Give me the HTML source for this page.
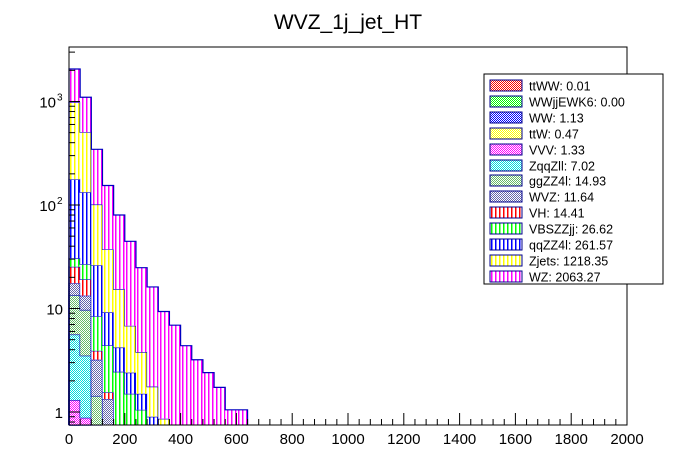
<!DOCTYPE html>
<html><head><meta charset="utf-8"><style>
body{margin:0;background:#fff;}
svg{display:block;font-family:"Liberation Sans",Arial,sans-serif;}
</style></head><body>
<svg id="c" width="696" height="472" viewBox="0 0 696 472" xmlns="http://www.w3.org/2000/svg">
<defs>
<pattern id="xr" width="2" height="2" patternUnits="userSpaceOnUse"><rect width="2" height="2" fill="#fff"/><rect width="1" height="1" fill="#f00"/><rect x="1" y="1" width="1" height="1" fill="#f00"/></pattern>
<pattern id="xg" width="2" height="2" patternUnits="userSpaceOnUse"><rect width="2" height="2" fill="#fff"/><rect width="1" height="1" fill="#0f0"/><rect x="1" y="1" width="1" height="1" fill="#0f0"/></pattern>
<pattern id="xb" width="2" height="2" patternUnits="userSpaceOnUse"><rect width="2" height="2" fill="#fff"/><rect width="1" height="1" fill="#00f"/><rect x="1" y="1" width="1" height="1" fill="#00f"/></pattern>
<pattern id="xy" width="2" height="2" patternUnits="userSpaceOnUse"><rect width="2" height="2" fill="#fff"/><rect width="1" height="1" fill="#ff0"/><rect x="1" y="1" width="1" height="1" fill="#ff0"/></pattern>
<pattern id="xm" width="2" height="2" patternUnits="userSpaceOnUse"><rect width="2" height="2" fill="#fff"/><rect width="1" height="1" fill="#f0f"/><rect x="1" y="1" width="1" height="1" fill="#f0f"/></pattern>
<pattern id="xc" width="2" height="2" patternUnits="userSpaceOnUse"><rect width="2" height="2" fill="#fff"/><rect width="1" height="1" fill="#0dd"/><rect x="1" y="1" width="1" height="1" fill="#0dd"/></pattern>
<pattern id="xgg" width="2" height="2" patternUnits="userSpaceOnUse"><rect width="2" height="2" fill="#fff"/><rect width="1" height="1" fill="#6b6"/><rect x="1" y="1" width="1" height="1" fill="#6b6"/></pattern>
<pattern id="xw" width="2" height="2" patternUnits="userSpaceOnUse"><rect width="2" height="2" fill="#fff"/><rect width="1" height="1" fill="#66a"/><rect x="1" y="1" width="1" height="1" fill="#66a"/></pattern>
</defs>
<text x="348" y="29" font-size="21" text-anchor="middle">WVZ_1j_jet_HT</text>
<g id="bars"></g>
<g id="axes"></g>
<g id="legend"></g>
</svg>
<script>
const names = ["ttWW","WWjjEWK6","WW","ttW","VVV","ZqqZll","ggZZ4l","WVZ","VH","VBSZZjj","qqZZ4l","Zjets","WZ"];
const legendValues = ["0.01","0.00","1.13","0.47","1.33","7.02","14.93","11.64","14.41","26.62","261.57","1218.35","2063.27"];
const fills = ["xr","xg","xb","xy","xm","xc","xgg","xw","#f00","#0f0","#00f","#ff0","#f0f"];
const binWidth = 40;
const sTTWW = [0.005];
const sWWjj = [0];
const sWW = [0.5,0.4,0.2];
const sTTW = [0.2,0.2];
const sVVV = [0.6,0.28];
const sZqqZll = [4.3,2.62];
const sGgZZ = [7.9,6.2,1.23];
const sWVZ = [4.0,3.6,1.77,1.33];
const sVH = [7.8,5.8,0.7,0.22];
const sVBS = [5.2,7.7,4.5,2.85,2.45,1.5,1.05];
const sQqZZ = [146.5,106.2,17.8,4.8,1.75,0.9,0.45,0.9];
const sZjets = [803,372,75,28.1,11.2,4.4,2.3,0.86,0.86];
const sWZ = [1080,595,244,117,64.6,37.8,21,14.4,8.5,6.9,4.37,3.2,2.4,1.73,1.05,1.05];
const series = [sTTWW,sWWjj,sWW,sTTW,sVVV,sZqqZll,sGgZZ,sWVZ,sVH,sVBS,sQqZZ,sZjets,sWZ];
const xTicks = [0,200,400,600,800,1000,1200,1400,1600,1800,2000];

const X0=69,X1=627,Y0=425,Y1=47;
const xs = v => X0 + v/2000*(X1-X0);
const yOne = 412, dec = 103.5;
const ys = v => v<=0 ? Y0 : Math.min(Y0, yOne - Math.log10(v)*dec);
const NS="http://www.w3.org/2000/svg";
function mk(t,a,p){const e=document.createElementNS(NS,t);for(const k in a)e.setAttribute(k,a[k]);p.appendChild(e);return e;}
function hatchBox(x,y,w,h,f,parent){
  if(f.charAt(0)==='#'){
    const g=mk('g',{},parent);
    mk('rect',{x:x,y:y,width:w,height:h,fill:'#fff'},g);
    for(let px=Math.ceil(x)+1;px<x+w-1;px+=4){
      mk('rect',{x:px,y:y,width:1.5,height:h,fill:f},g);
    }
    return g;
  }
  return mk('rect',{x:x,y:y,width:w,height:h,fill:'url(#'+f+')'},parent);
}
const bars=document.getElementById('bars');
const nb = Math.max(...series.map(s=>s.length));
let cum = new Array(nb).fill(0);
series.forEach((s,si)=>{
  const prev = cum.slice();
  for(let b=0;b<s.length;b++){
    cum[b]+=s[b];
    const yt=ys(cum[b]), yb=ys(prev[b]);
    if(yb-yt>0.1){
      const r=hatchBox(xs(b*binWidth),yt,xs((b+1)*binWidth)-xs(b*binWidth),yb-yt,fills[si],bars);
      
      
    }
  }
  let d=`M${xs(0)},${Y0}`;
  for(let b=0;b<s.length;b++){
    d+=`V${ys(cum[b])}H${xs((b+1)*binWidth)}`;
  }
  d+=`V${Y0}`;
  const p=mk('path',{d:d,fill:'none',stroke:'#0000c0','stroke-width':1.2},bars);
  
  
});
const ax=document.getElementById('axes');
const frame=mk('rect',{x:X0,y:Y1,width:X1-X0,height:Y0-Y1,fill:'none',stroke:'#000','stroke-width':1},ax);


for(let v=0;v<=2000;v+=40){
  const big=v%200===0;
  mk('line',{x1:xs(v),x2:xs(v),y1:Y0,y2:Y0-(big?12:6),stroke:'#000'},ax);
}
xTicks.forEach(v=>{
  const t=mk('text',{x:xs(v),y:Y0+19,'font-size':15,'text-anchor':'middle'},ax);t.textContent=v;
  
  
});
for(let e=-1;e<=3;e++){for(let m=1;m<10;m++){const v=m*Math.pow(10,e);const y=yOne-Math.log10(v)*dec;if(y>Y0||y<Y1)continue;
  mk('line',{x1:X0,x2:X0+(m===1?11:6),y1:y,y2:y,stroke:'#000'},ax);}}
const yl=[["1",""],["10",""],["10","2"],["10","3"]];
yl.forEach((l,i)=>{const y=yOne-i*dec+6;
  const t=mk('text',{x:l[1]?56:63,y:y,'font-size':15,'text-anchor':'end'},ax);t.textContent=l[0];
  
  
  if(l[1]){const s=mk('text',{x:57,y:y-7,'font-size':10},ax);s.textContent=l[1];}
});
const lg=document.getElementById('legend');
const box=mk('rect',{x:484,y:74,width:179,height:210,fill:'#fff',stroke:'#000'},lg);


names.forEach((n,i)=>{const y=Math.round(78+i*15.9);
  const r=hatchBox(490,y+2,32,11,fills[i],lg);
  
  
  mk('rect',{x:490,y:y+2,width:32,height:11,fill:'none',stroke:'#00008b'},lg);
  const t=mk('text',{x:529,y:y+12.5,'font-size':12.5},lg);t.textContent=n+': '+legendValues[i];
  
  
});
</script>
</body></html>
